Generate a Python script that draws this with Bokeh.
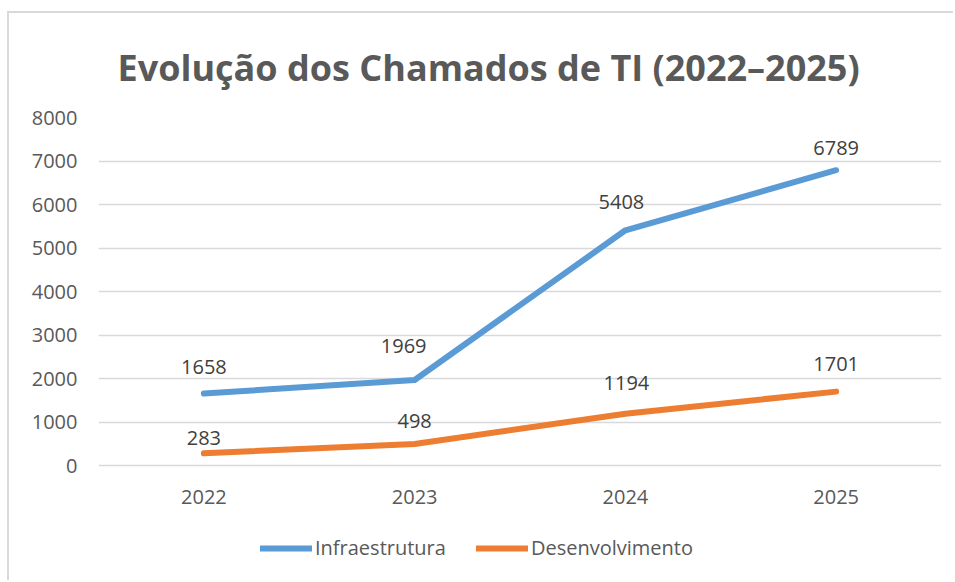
from bokeh.plotting import figure
from bokeh.models import (Range1d, FixedTicker, Legend, LegendItem, Title)
from bokeh.core.properties import value
from bokeh.embed import file_html
from bokeh.resources import INLINE

years = ["2022", "2023", "2024", "2025"]
infra = [1658, 1969, 5408, 6789]
dev = [283, 498, 1194, 1701]
y_ticks = [0, 1000, 2000, 3000, 4000, 5000, 6000, 7000, 8000]

BLUE = "#5B9BD5"
ORANGE = "#ED7D31"
TXT = "#595959"
GRID = "#D9D9D9"
FONT = "Open Sans"

# figure is shifted by CSS margin+border (8px left, 12px top)
OX, OY = 9, 13
# frame runs down to the bottom of the canvas so the legend is not clipped
p = figure(width=955 - OX, height=582 - OY, x_range=years, y_range=Range1d(-2685, 8000),
           output_backend="svg", toolbar_location=None,
           min_border_left=98 - OX, min_border_right=14, min_border_top=117 - OY,
           min_border_bottom=0)
p.styles = {"margin-left": "7px", "margin-top": "11px",
            "border-left": "2px solid #D9D9D9", "border-top": "2px solid #D9D9D9"}
p.outline_line_color = None
p.background_fill_color = "white"
p.border_fill_color = "white"

t = Title(text="Evolução dos Chamados de TI (2022–2025)", align="left",
          text_font=FONT, text_font_size="36px", text_font_style="bold",
          text_color=TXT, offset=19, standoff=52)
p.add_layout(t, "above")

p.xaxis.visible = False

p.yaxis.ticker = FixedTicker(ticks=y_ticks)
p.yaxis.axis_line_color = None
p.yaxis.major_tick_line_color = None
p.yaxis.minor_tick_line_color = None
p.yaxis.major_label_text_font = FONT
p.yaxis.major_label_text_font_size = "20px"
p.yaxis.major_label_text_color = TXT
p.yaxis.major_label_standoff = 15

p.xgrid.grid_line_color = None
p.ygrid.ticker = FixedTicker(ticks=y_ticks)
p.ygrid.grid_line_color = GRID
p.ygrid.grid_line_width = 1.5

# category labels along the baseline (x axis)
p.text(x=years, y=[0] * len(years), text=years, y_offset=31,
       text_align="center", text_baseline="middle", text_font=value(FONT),
       text_font_size="20px", text_color=TXT)

r1 = p.line(years, infra, line_color=BLUE, line_width=6,
            line_cap="round", line_join="round")
r2 = p.line(years, dev, line_color=ORANGE, line_width=6,
            line_cap="round", line_join="round")

# data labels (offsets are label placement only)
infra_dx = [0, -11, -4, 0]
infra_dy = [-26, -34, -28, -22]
dev_dx = [0, 0, 1, 0]
dev_dy = [-15, -23, -31, -28]
p.text(x=years, y=infra, text=[str(v) for v in infra], x_offset=infra_dx, y_offset=infra_dy,
       text_align="center", text_baseline="middle", text_font=value(FONT),
       text_font_size="20px", text_color="#404040")
p.text(x=years, y=dev, text=[str(v) for v in dev], x_offset=dev_dx, y_offset=dev_dy,
       text_align="center", text_baseline="middle", text_font=value(FONT),
       text_font_size="20px", text_color="#404040")

legend = Legend(items=[LegendItem(label="Infraestrutura", renderers=[r1]),
                       LegendItem(label="Desenvolvimento", renderers=[r2])],
                orientation="horizontal", location=(162, 21),
                glyph_width=52, glyph_height=24, label_standoff=3, spacing=30,
                padding=0, margin=0, border_line_color=None,
                background_fill_alpha=0,
                label_text_font=FONT, label_text_font_size="20px",
                label_text_color=TXT)
p.add_layout(legend, "center")

open("out.html", "w").write(file_html(p, INLINE))
